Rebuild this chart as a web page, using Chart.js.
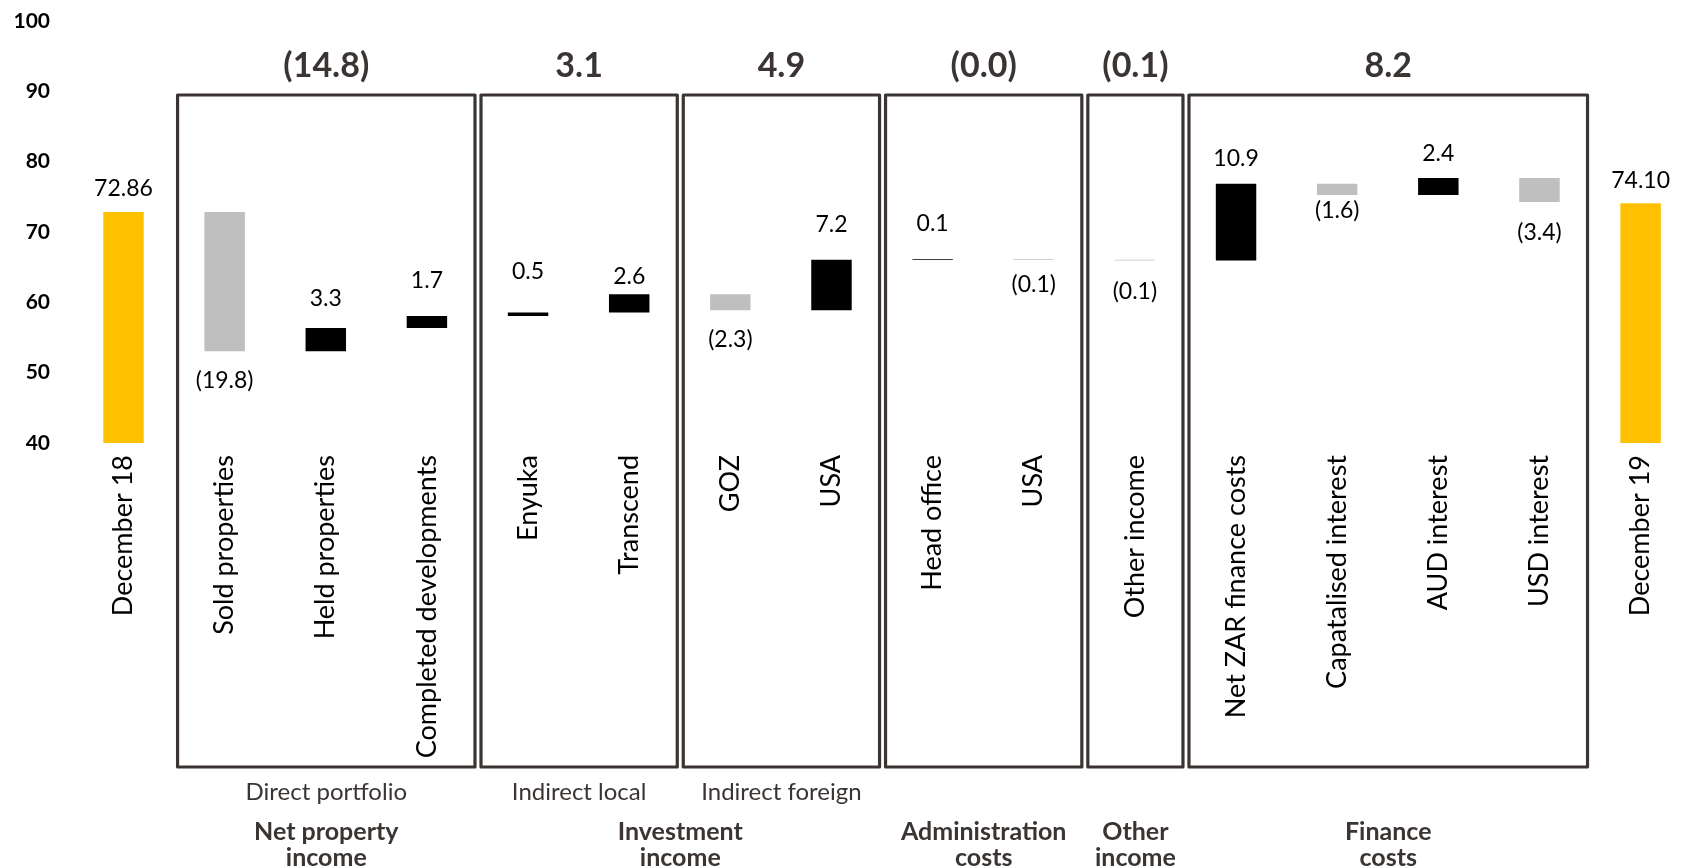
<!DOCTYPE html>
<html>
<head>
<meta charset="utf-8">
<script src="https://cdn.jsdelivr.net/npm/chart.js@4/dist/chart.umd.min.js"></script>
<style>
  html, body { margin: 0; padding: 0; background: #ffffff; }
  #wrap { width: 1685px; height: 868px; position: relative; }
</style>
</head>
<body>
<div id="wrap"><canvas id="bridge"></canvas></div>
<script>
// Distributable income per share bridge, December 18 to December 19
const categories = [
  'December 18', 'Sold properties', 'Held properties', 'Completed developments',
  'Enyuka', 'Transcend', 'GOZ', 'USA', 'Head office', 'USA', 'Other income',
  'Net ZAR finance costs', 'Capatalised interest', 'AUD interest', 'USD interest',
  'December 19'
];
const openingValue = 72.86;
const closingValue = 74.10;
const movements = [-19.8, 3.3, 1.7, 0.5, 2.6, -2.3, 7.2, 0.1, -0.1, -0.1, 10.9, -1.6, 2.4, -3.4];

// Boxed groups of movements (category index ranges) and their totals
const groupFirst = [1, 4, 6, 8, 10, 11];
const groupLast = [3, 5, 7, 9, 10, 14];
const groupTotals = [-14.8, 3.1, 4.9, -0.0, -0.1, 8.2];
const groupSubLabels = ['Direct portfolio', 'Indirect local', 'Indirect foreign', '', '', ''];

// Headings beneath the boxes, each spanning a range of groups
const headingLines = [
  ['Net property', 'income'],
  ['Investment', 'income'],
  ['Administration', 'costs'],
  ['Other', 'income'],
  ['Finance', 'costs']
];
const headingGroupFrom = [0, 1, 3, 4, 5];
const headingGroupTo = [0, 2, 3, 4, 5];

// Value axis
const yMin = 40;
const yMax = 100;
const yStep = 10;

// ---- styling ----
const FONT = 'Lato, "Open Sans", "DejaVu Sans", sans-serif';
const COL_TOTAL = '#FFC000';
const COL_UP = '#000000';
const COL_DOWN = '#BFBFBF';
const COL_FRAME = '#3a3532';
// distance (px) from bar edge to the centre of each value label
const labelGap = [23, 29, 29, 35, 41, 18, 29, 35, 35, 25, 31, 25, 16, 25, 31, 23];

// floating bars: totals from zero, movements from the running level
const barData = [[0, openingValue]];
const barColors = [COL_TOTAL];
let level = openingValue;
movements.forEach(d => {
  barData.push([level, level + d]);
  barColors.push(d >= 0 ? COL_UP : COL_DOWN);
  level += d;
});
barData.push([0, closingValue]);
barColors.push(COL_TOTAL);

function fmtMove(v) {
  const neg = v < 0 || Object.is(v, -0);
  const s = Math.abs(v).toFixed(1);
  return neg ? '(' + s + ')' : s;
}

const annotations = {
  id: 'bridgeAnnotations',
  afterDraw(chart) {
    const ctx = chart.ctx;
    const x = chart.scales.x;
    const area = chart.chartArea;
    const meta = chart.getDatasetMeta(0);
    const boxTop = area.top + 74;
    const boxBottom = x.bottom - 1;

    ctx.save();
    // group frames
    const boxes = groupFirst.map((f, i) => {
      const left = x.getPixelForValue(f - 0.5) + 3.5;
      const right = x.getPixelForValue(groupLast[i] + 0.5) - 2.5;
      return { left, right };
    });
    ctx.strokeStyle = COL_FRAME;
    ctx.lineWidth = 3.2;
    ctx.lineJoin = 'round';
    boxes.forEach(b => {
      ctx.strokeRect(b.left, boxTop, b.right - b.left, boxBottom - boxTop);
    });

    // group totals above frames
    ctx.fillStyle = COL_FRAME;
    ctx.textAlign = 'center';
    ctx.textBaseline = 'middle';
    ctx.font = 'bold 34px ' + FONT;
    boxes.forEach((b, i) => {
      ctx.fillText(fmtMove(groupTotals[i]), (b.left + b.right) / 2, boxTop - 29);
    });

    // sub labels under frames
    ctx.font = '24px ' + FONT;
    boxes.forEach((b, i) => {
      if (groupSubLabels[i]) ctx.fillText(groupSubLabels[i], (b.left + b.right) / 2, boxBottom + 25);
    });

    // headings
    ctx.font = 'bold 25px ' + FONT;
    headingLines.forEach((lines, i) => {
      const cx = (boxes[headingGroupFrom[i]].left + boxes[headingGroupTo[i]].right) / 2;
      lines.forEach((t, j) => ctx.fillText(t, cx, boxBottom + 65 + j * 26));
    });

    // value labels on bars
    ctx.fillStyle = '#000000';
    ctx.font = '23px ' + FONT;
    meta.data.forEach((bar, i) => {
      const top = Math.min(bar.y, bar.base);
      const bottom = Math.max(bar.y, bar.base);
      let text, ty;
      if (i === 0 || i === categories.length - 1) {
        const v = i === 0 ? openingValue : closingValue;
        text = v.toFixed(2);
        ty = top - labelGap[i];
      } else {
        const d = movements[i - 1];
        text = fmtMove(d);
        ty = d >= 0 ? top - labelGap[i] : bottom + labelGap[i];
      }
      ctx.fillText(text, bar.x, ty);
    });
    ctx.restore();
  }
};

new Chart(document.getElementById('bridge'), {
  type: 'bar',
  data: {
    labels: categories,
    datasets: [{
      data: barData,
      backgroundColor: barColors,
      borderWidth: 0,
      barPercentage: 0.4,
      categoryPercentage: 1.0,
      clip: { left: false, right: false, top: 0, bottom: 0 }
    }]
  },
  options: {
    responsive: true,
    maintainAspectRatio: false,
    animation: false,
    layout: { padding: { top: 21, right: 36, bottom: 100, left: 0 } },
    plugins: {
      legend: { display: false },
      tooltip: { enabled: false }
    },
    scales: {
      x: {
        offset: false,
        grid: { display: false, drawTicks: false },
        border: { display: false },
        ticks: {
          autoSkip: false,
          maxRotation: 90,
          minRotation: 90,
          padding: 12,
          color: '#000000',
          font: { family: FONT, size: 27 }
        },
        afterFit(scale) { scale.height = 325; }
      },
      y: {
        min: yMin,
        max: yMax,
        grid: { display: false, drawTicks: false },
        border: { display: false },
        ticks: {
          stepSize: yStep,
          padding: 73.5,
          color: '#000000',
          font: { family: FONT, size: 21, weight: 'bold' }
        },
        afterFit(scale) {
          scale.width = 123.5;
          scale.paddingTop = 0;
          scale.paddingBottom = 0;
        }
      }
    }
  },
  plugins: [annotations]
});
</script>
</body>
</html>
